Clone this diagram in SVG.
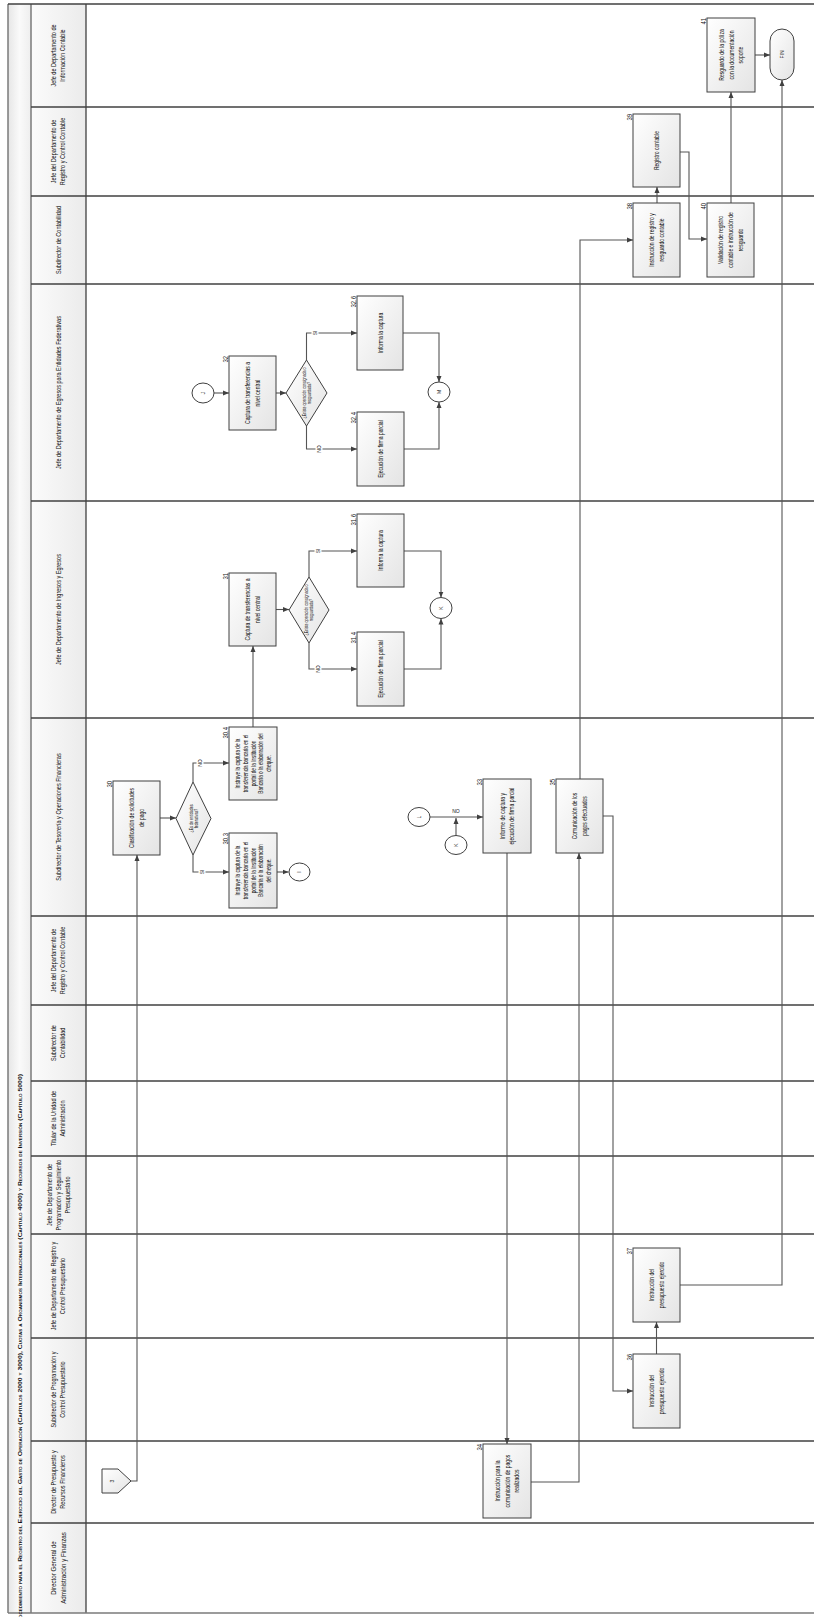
<svg xmlns="http://www.w3.org/2000/svg" width="814" height="1617" viewBox="0 0 814 1617">
<defs>
<linearGradient id="g" x1="0" y1="0" x2="1" y2="1"><stop offset="0" stop-color="#ffffff"/><stop offset="1" stop-color="#e4e4e4"/></linearGradient>
<linearGradient id="hg" x1="0" y1="0" x2="1" y2="0"><stop offset="0" stop-color="#fbfbfb"/><stop offset="1" stop-color="#ebebeb"/></linearGradient>
<linearGradient id="tg" x1="0" y1="0" x2="1" y2="0"><stop offset="0" stop-color="#e6e6e6"/><stop offset="0.5" stop-color="#fafafa"/><stop offset="1" stop-color="#eeeeee"/></linearGradient>
<marker id="a" markerWidth="6" markerHeight="6" refX="6" refY="3" orient="auto" markerUnits="userSpaceOnUse"><path d="M0,0.5 L6,3 L0,5.5 z" fill="#404040"/></marker>
<style>
.lane{stroke:#404040;stroke-width:1.3;fill:none}
.frame{stroke:#7a7a7a;stroke-width:1.5;fill:none}
.box{fill:url(#g);stroke:#404040;stroke-width:1}
.c{fill:none;stroke:#555555;stroke-width:1.1;marker-end:url(#a)}
.cn{fill:none;stroke:#555555;stroke-width:1.1}
text{font-family:"Liberation Sans",Arial,sans-serif;fill:#111}
.t{font-size:7px;text-anchor:middle}
.h{font-size:6.5px;text-anchor:middle}
.h2{font-size:7.5px;text-anchor:middle}
.n{font-size:7px;text-anchor:end}
.d{font-size:4.5px;text-anchor:middle}
.l{font-size:5px;text-anchor:middle}
.ttl{font-size:6px;font-weight:bold;font-variant:small-caps}
</style>
</defs>
<g id="swimlanes">
<rect x="8" y="4" width="23" height="1609" fill="url(#tg)"/>
<rect x="31" y="4" width="55" height="1609" fill="url(#hg)"/>
<rect x="86" y="4" width="728" height="1609" fill="#ffffff"/>
<line class="frame" x1="8" y1="4" x2="8" y2="1613"/>
<line class="frame" x1="31" y1="4" x2="31" y2="1613"/>
<line class="lane" x1="86" y1="4" x2="86" y2="1613"/>
<line class="lane" x1="8" y1="4" x2="814" y2="4"/>
<line class="frame" x1="8" y1="1613" x2="814" y2="1613"/>
<line class="lane" x1="31" y1="107" x2="814" y2="107"/>
<line class="lane" x1="31" y1="196" x2="814" y2="196"/>
<line class="lane" x1="31" y1="284" x2="814" y2="284"/>
<line class="lane" x1="31" y1="501" x2="814" y2="501"/>
<line class="lane" x1="31" y1="718" x2="814" y2="718"/>
<line class="lane" x1="31" y1="916" x2="814" y2="916"/>
<line class="lane" x1="31" y1="1005" x2="814" y2="1005"/>
<line class="lane" x1="31" y1="1081" x2="814" y2="1081"/>
<line class="lane" x1="31" y1="1156" x2="814" y2="1156"/>
<line class="lane" x1="31" y1="1234" x2="814" y2="1234"/>
<line class="lane" x1="31" y1="1338" x2="814" y2="1338"/>
<line class="lane" x1="31" y1="1441" x2="814" y2="1441"/>
<line class="lane" x1="31" y1="1523" x2="814" y2="1523"/>
<text class="ttl" transform="translate(21.5 1626) rotate(-90)" textLength="552" lengthAdjust="spacingAndGlyphs">Procedimiento para el Registro del Ejercicio del Gasto de Operación (Capítulos 2000 y 3000), Cuotas a Organismos Internacionales (Capítulo 4000) y Recursos de Inversión (Capítulo 5000)</text>
<text class="h" transform="translate(58.5 55.5) rotate(-90) scale(0.85 1)"><tspan x="0" y="-2.2">Jefe de Departamento de</tspan><tspan x="0" y="6.8">Información Contable</tspan></text>
<text class="h" transform="translate(58.5 151.5) rotate(-90) scale(0.85 1)"><tspan x="0" y="-2.2">Jefe del Departamento de</tspan><tspan x="0" y="6.8">Registro y Control Contable</tspan></text>
<text class="h" transform="translate(58.5 240) rotate(-90) scale(0.85 1)"><tspan x="0" y="2.3">Subdirector de Contabilidad</tspan></text>
<text class="h" transform="translate(58.5 392.5) rotate(-90) scale(0.85 1)"><tspan x="0" y="2.3">Jefe de Departamento de Egresos para Entidades Federativas</tspan></text>
<text class="h" transform="translate(58.5 609.5) rotate(-90) scale(0.85 1)"><tspan x="0" y="2.3">Jefe de Departamento de Ingresos y Egresos</tspan></text>
<text class="h" transform="translate(58.5 817) rotate(-90) scale(0.85 1)"><tspan x="0" y="2.3">Subdirector de Tesorería y Operaciones Financieras</tspan></text>
<text class="h" transform="translate(58.5 960.5) rotate(-90) scale(0.85 1)"><tspan x="0" y="-2.2">Jefe del Departamento de</tspan><tspan x="0" y="6.8">Registro y Control Contable</tspan></text>
<text class="h" transform="translate(58.5 1043) rotate(-90) scale(0.85 1)"><tspan x="0" y="-2.2">Subdirector de</tspan><tspan x="0" y="6.8">Contabilidad</tspan></text>
<text class="h" transform="translate(58.5 1118.5) rotate(-90) scale(0.85 1)"><tspan x="0" y="-2.2">Titular de la Unidad de</tspan><tspan x="0" y="6.8">Administración</tspan></text>
<text class="h" transform="translate(58.5 1195) rotate(-90) scale(0.85 1)"><tspan x="0" y="-6.7">Jefe de Departamento de</tspan><tspan x="0" y="2.3">Programación y Seguimiento</tspan><tspan x="0" y="11.3">Presupuestario</tspan></text>
<text class="h" transform="translate(58.5 1286) rotate(-90) scale(0.85 1)"><tspan x="0" y="-2.2">Jefe de Departamento de Registro y</tspan><tspan x="0" y="6.8">Control Presupuestario</tspan></text>
<text class="h" transform="translate(58.5 1389.5) rotate(-90) scale(0.85 1)"><tspan x="0" y="-2.2">Subdirector de Programación y</tspan><tspan x="0" y="6.8">Control Presupuestario</tspan></text>
<text class="h" transform="translate(58.5 1482) rotate(-90) scale(0.85 1)"><tspan x="0" y="-2.2">Director de Presupuesto y</tspan><tspan x="0" y="6.8">Recursos Financieros</tspan></text>
<text class="h2" transform="translate(58.5 1568) rotate(-90) scale(0.82 1)"><tspan x="0" y="-2.5">Director General de</tspan><tspan x="0" y="7.5">Administración y Finanzas</tspan></text>
</g>
<g id="connectors">
<path class="c" d="M131,1481 H137 V855"/>
<path class="c" d="M160,818 H176"/>
<path class="c" d="M193,782 V763 H229"/>
<path class="c" d="M193,855 V872 H229"/>
<path class="c" d="M277,872 H288.5"/>
<path class="c" d="M253,727 V646"/>
<path class="c" d="M276,609.5 H289"/>
<path class="c" d="M309,577 V551 H357"/>
<path class="c" d="M309,643 V669 H357"/>
<path class="c" d="M404,551 H441 V597.5"/>
<path class="c" d="M404,669 H441 V618.5"/>
<path class="c" d="M214,393 H229"/>
<path class="c" d="M276,393 H286"/>
<path class="c" d="M306.5,360 V333 H357"/>
<path class="c" d="M306.5,426 V449 H357"/>
<path class="c" d="M403,333 H439 V382"/>
<path class="c" d="M404,449 H439 V402"/>
<path class="c" d="M430,817 H483"/>
<path class="c" d="M456,835.5 V818"/>
<path class="c" d="M507,853 V1444"/>
<path class="c" d="M531,1482 H579 V853"/>
<path class="c" d="M580,779 V240 H633"/>
<path class="c" d="M603,816 H613 V1391 H633"/>
<path class="c" d="M656.5,1354 V1322"/>
<path class="c" d="M680,1285 H782 V80"/>
<path class="c" d="M657,203 V187"/>
<path class="c" d="M680,152 H689 V239 H707"/>
<path class="c" d="M731,203 V92"/>
<path class="c" d="M755,55 H770"/>
<rect x="196.5" y="757" width="7" height="11" fill="#fff"/>
<text class="l" transform="translate(200 763) rotate(-90)" dy="1.7">NO</text>
<rect x="198.5" y="868" width="7" height="8" fill="#fff"/>
<text class="l" transform="translate(202 872) rotate(-90)" dy="1.7">SI</text>
<rect x="314.5" y="547" width="7" height="8" fill="#fff"/>
<text class="l" transform="translate(318 551) rotate(-90)" dy="1.7">SI</text>
<rect x="314.5" y="663" width="7" height="11" fill="#fff"/>
<text class="l" transform="translate(318 669) rotate(-90)" dy="1.7">NO</text>
<rect x="311.5" y="329" width="7" height="8" fill="#fff"/>
<text class="l" transform="translate(315 333) rotate(-90)" dy="1.7">SI</text>
<rect x="315.5" y="443" width="7" height="11" fill="#fff"/>
<text class="l" transform="translate(319 449) rotate(-90)" dy="1.7">NO</text>
<text class="l" x="456" y="813">NO</text>
</g>
<g id="n3"><path d="M102,1469 H118 L131,1481 L118,1493 H102 Z" class="box"/><text class="l" transform="translate(112 1481) rotate(-90)" dy="1.7">3</text></g>
<g id="n30"><rect class="box" x="113" y="781" width="47" height="74"/><text class="n" transform="translate(112 781) rotate(-90) scale(0.85 1)">30</text><text class="t" transform="translate(136.5 818) rotate(-90) scale(0.72 1)"><tspan x="0" y="-2.5">Clasificación de solicitudes</tspan><tspan x="0" y="7.5">de pago</tspan></text></g>
<g id="d30"><path class="box" d="M193,782 L211,818.5 L193,855 L176,818.5 Z"/><text class="d" transform="translate(193.5 818.5) rotate(-90) scale(0.8 1)"><tspan x="0" y="-1">¿Es de entidades</tspan><tspan x="0" y="4.5">federativas?</tspan></text></g>
<g id="n30_4"><rect class="box" x="229" y="727" width="48" height="73"/><text class="n" transform="translate(228 727) rotate(-90) scale(0.85 1)">30.4</text><text class="t" style="font-size:6.5px" transform="translate(253 763.5) rotate(-90) scale(0.72 1)"><tspan x="0" y="-13.5">Instruye la captura de la</tspan><tspan x="0" y="-5.5">transferencia bancaria en el</tspan><tspan x="0" y="2.5">portal de la Institución</tspan><tspan x="0" y="10.5">Bancaria o la elaboración del</tspan><tspan x="0" y="18.5">cheque.</tspan></text></g>
<g id="n30_3"><rect class="box" x="229" y="833" width="48" height="75"/><text class="n" transform="translate(228 833) rotate(-90) scale(0.85 1)">30.3</text><text class="t" style="font-size:6.5px" transform="translate(253 870.5) rotate(-90) scale(0.72 1)"><tspan x="0" y="-13.5">Instruye la captura de la</tspan><tspan x="0" y="-5.5">transferencia bancaria en el</tspan><tspan x="0" y="2.5">portal de la Institución</tspan><tspan x="0" y="10.5">Bancaria o la elaboración</tspan><tspan x="0" y="18.5">del cheque.</tspan></text></g>
<g id="cI"><ellipse cx="299.5" cy="872" rx="10.5" ry="9" fill="#fff" stroke="#404040" stroke-width="1"/><text class="l" transform="translate(299.5 872) rotate(-90)" dy="1.7">I</text></g>
<g id="n31"><rect class="box" x="229" y="573" width="47" height="73"/><text class="n" transform="translate(228 573) rotate(-90) scale(0.85 1)">31</text><text class="t" transform="translate(252.5 609.5) rotate(-90) scale(0.72 1)"><tspan x="0" y="-2.5">Captura de transferencias a</tspan><tspan x="0" y="7.5">nivel central</tspan></text></g>
<g id="d31"><path class="box" d="M309,577 L329,610 L309,643 L289,610 Z"/><text class="d" transform="translate(309 610) rotate(-90) scale(0.8 1)"><tspan x="0" y="-1">¿Existe operación consignada o</tspan><tspan x="0" y="4.5">resguardada?</tspan></text></g>
<g id="n31_6"><rect class="box" x="357" y="514" width="47" height="73"/><text class="n" transform="translate(356 514) rotate(-90) scale(0.85 1)">31.6</text><text class="t" transform="translate(380.5 550.5) rotate(-90) scale(0.72 1)"><tspan x="0" y="2.5">Informa la captura</tspan></text></g>
<g id="n31_4"><rect class="box" x="357" y="632" width="47" height="74"/><text class="n" transform="translate(356 632) rotate(-90) scale(0.85 1)">31.4</text><text class="t" transform="translate(380.5 669) rotate(-90) scale(0.72 1)"><tspan x="0" y="2.5">Ejecución de firma parcial</tspan></text></g>
<g id="cK"><ellipse cx="441" cy="608" rx="11" ry="10.5" fill="#fff" stroke="#404040" stroke-width="1"/><text class="l" transform="translate(441 608) rotate(-90)" dy="1.7">K</text></g>
<g id="cJ"><ellipse cx="203" cy="393" rx="11" ry="10" fill="#fff" stroke="#404040" stroke-width="1"/><text class="l" transform="translate(203 393) rotate(-90)" dy="1.7">J</text></g>
<g id="n32"><rect class="box" x="229" y="356" width="47" height="74"/><text class="n" transform="translate(228 356) rotate(-90) scale(0.85 1)">32</text><text class="t" transform="translate(252.5 393) rotate(-90) scale(0.72 1)"><tspan x="0" y="-2.5">Captura de transferencias a</tspan><tspan x="0" y="7.5">nivel central</tspan></text></g>
<g id="d32"><path class="box" d="M306.5,360 L327,393 L306.5,426 L286,393 Z"/><text class="d" transform="translate(306.5 393) rotate(-90) scale(0.8 1)"><tspan x="0" y="-1">¿Existe operación consignada o</tspan><tspan x="0" y="4.5">resguardada?</tspan></text></g>
<g id="n32_6"><rect class="box" x="357" y="296" width="46" height="74"/><text class="n" transform="translate(356 296) rotate(-90) scale(0.85 1)">32.6</text><text class="t" transform="translate(380 333) rotate(-90) scale(0.72 1)"><tspan x="0" y="2.5">Informa la captura</tspan></text></g>
<g id="n32_4"><rect class="box" x="357" y="412" width="47" height="74"/><text class="n" transform="translate(356 412) rotate(-90) scale(0.85 1)">32.4</text><text class="t" transform="translate(380.5 449) rotate(-90) scale(0.72 1)"><tspan x="0" y="2.5">Ejecución de firma parcial</tspan></text></g>
<g id="cM"><ellipse cx="439" cy="392" rx="11" ry="10" fill="#fff" stroke="#404040" stroke-width="1"/><text class="l" transform="translate(439 392) rotate(-90)" dy="1.7">M</text></g>
<g id="cL"><ellipse cx="419" cy="817" rx="11" ry="9.5" fill="#fff" stroke="#404040" stroke-width="1"/><text class="l" transform="translate(419 817) rotate(-90)" dy="1.7">L</text></g>
<g id="cK2"><ellipse cx="456" cy="845" rx="11" ry="9.5" fill="#fff" stroke="#404040" stroke-width="1"/><text class="l" transform="translate(456 845) rotate(-90)" dy="1.7">K</text></g>
<g id="n33"><rect class="box" x="483" y="779" width="48" height="74"/><text class="n" transform="translate(482 779) rotate(-90) scale(0.85 1)">33</text><text class="t" transform="translate(507 816) rotate(-90) scale(0.72 1)"><tspan x="0" y="-2.5">Informe de captura y</tspan><tspan x="0" y="7.5">ejecución de firma parcial</tspan></text></g>
<g id="n35"><rect class="box" x="556" y="779" width="47" height="74"/><text class="n" transform="translate(555 779) rotate(-90) scale(0.85 1)">35</text><text class="t" transform="translate(579.5 816) rotate(-90) scale(0.72 1)"><tspan x="0" y="-2.5">Comunicación de los</tspan><tspan x="0" y="7.5">pagos efectuados</tspan></text></g>
<g id="n34"><rect class="box" x="483" y="1444" width="48" height="74"/><text class="n" transform="translate(482 1444) rotate(-90) scale(0.85 1)">34</text><text class="t" transform="translate(507 1481) rotate(-90) scale(0.72 1)"><tspan x="0" y="-7.5">Instrucción para la</tspan><tspan x="0" y="2.5">comunicación de pagos</tspan><tspan x="0" y="12.5">realizados</tspan></text></g>
<g id="n36"><rect class="box" x="633" y="1354" width="47" height="74"/><text class="n" transform="translate(632 1354) rotate(-90) scale(0.85 1)">36</text><text class="t" transform="translate(656.5 1391) rotate(-90) scale(0.72 1)"><tspan x="0" y="-2.5">Instrucción del</tspan><tspan x="0" y="7.5">presupuesto ejercido</tspan></text></g>
<g id="n37"><rect class="box" x="633" y="1248" width="47" height="74"/><text class="n" transform="translate(632 1248) rotate(-90) scale(0.85 1)">37</text><text class="t" transform="translate(656.5 1285) rotate(-90) scale(0.72 1)"><tspan x="0" y="-2.5">Instrucción del</tspan><tspan x="0" y="7.5">presupuesto ejercido</tspan></text></g>
<g id="n38"><rect class="box" x="633" y="203" width="47" height="74"/><text class="n" transform="translate(632 203) rotate(-90) scale(0.85 1)">38</text><text class="t" transform="translate(656.5 240) rotate(-90) scale(0.72 1)"><tspan x="0" y="-2.5">Instrucción de registro y</tspan><tspan x="0" y="7.5">resguardo contable</tspan></text></g>
<g id="n39"><rect class="box" x="633" y="114" width="47" height="73"/><text class="n" transform="translate(632 114) rotate(-90) scale(0.85 1)">39</text><text class="t" transform="translate(656.5 150.5) rotate(-90) scale(0.72 1)"><tspan x="0" y="2.5">Registro contable</tspan></text></g>
<g id="n40"><rect class="box" x="707" y="203" width="47" height="74"/><text class="n" transform="translate(706 203) rotate(-90) scale(0.85 1)">40</text><text class="t" transform="translate(730.5 240) rotate(-90) scale(0.72 1)"><tspan x="0" y="-7.5">Validación de registro</tspan><tspan x="0" y="2.5">contable e instrucción de</tspan><tspan x="0" y="12.5">resguardo</tspan></text></g>
<g id="n41"><rect class="box" x="707" y="18" width="48" height="74"/><text class="n" transform="translate(706 18) rotate(-90) scale(0.85 1)">41</text><text class="t" transform="translate(731 55) rotate(-90) scale(0.72 1)"><tspan x="0" y="-7.5">Resguardo de la póliza</tspan><tspan x="0" y="2.5">con la documentación</tspan><tspan x="0" y="12.5">soporte</tspan></text></g>
<g id="fin"><rect class="box" x="770" y="29" width="24" height="51" rx="12" ry="12"/><text class="l" transform="translate(782 54.5) rotate(-90)" dy="1.7">FIN</text></g>
</svg>
